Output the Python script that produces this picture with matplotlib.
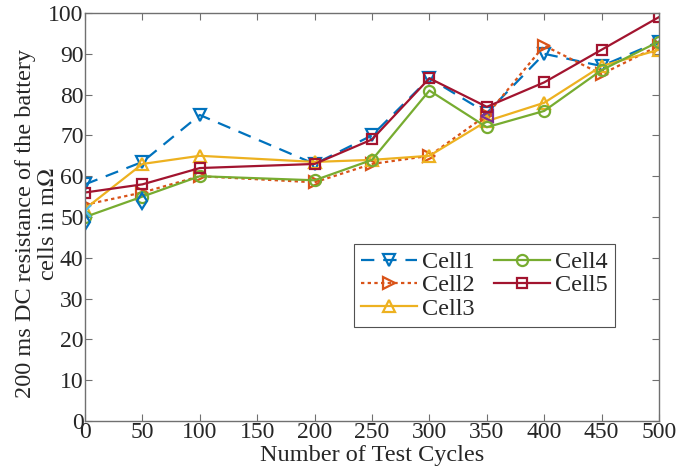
import matplotlib
matplotlib.use("Agg")
import matplotlib.pyplot as plt

plt.rcParams['font.family'] = ['Liberation Serif', 'DejaVu Serif']
plt.rcParams['mathtext.fontset'] = 'stix'

cycles = [0, 50, 100, 200, 250, 300, 350, 400, 450, 500]
cell1 = [58, 63.5, 75, 63, 70, 84, 75.5, 90, 87, 93]
cell2 = [53, 56, 60, 58.5, 63, 65, 75, 92, 85, 92]
cell3 = [52, 63, 65, 63.5, 64, 65, 73.5, 78, 87, 91]
cell4 = [50, 55, 60, 59, 64, 81, 72, 76, 86, 93]
cell5 = [56, 58, 62, 63, 69, 84, 77, 83, 91, 99]

# partly hidden extra series (only visible markers)
extra_purple_x = [350]
extra_purple_y = [74.7]
extra_cyan_x = [0]
extra_cyan_y = [51.4]
extra_diamond_x = [0, 50]
extra_diamond_y = [48.7, 54]

xticks = [0, 50, 100, 150, 200, 250, 300, 350, 400, 450, 500]
yticks = [0, 10, 20, 30, 40, 50, 60, 70, 80, 90, 100]

fig = plt.figure(figsize=(6.81, 4.70), dpi=100)
ax = fig.add_axes([85/681, 1-421/470, (659-85)/681, (421-13)/470])

c1, c2, c3, c4, c5 = '#0072BD', '#D95319', '#EDB120', '#77AC30', '#A2142F'
ms = 8
lw = 1.6
ax.plot(cycles, cell1, color=c1, ls=(0, (6, 4)), lw=lw, marker='v', ms=ms, mfc='none', mew=1.6, label='Cell1')
ax.plot(cycles, cell2, color=c2, ls=(0, (1.5, 1.5)), lw=lw, marker='>', ms=ms, mfc='none', mew=1.6, label='Cell2')
ax.plot(cycles, cell3, color=c3, ls='-', lw=lw, marker='^', ms=ms, mfc='none', mew=1.6, label='Cell3')
ax.plot(extra_purple_x, extra_purple_y, color='#7E2F8E', ls='none', marker='<', ms=ms, mfc='none', mew=1.6)
ax.plot(cycles, cell4, color=c4, ls='-', lw=lw, marker='o', ms=ms, mfc='none', mew=1.6, label='Cell4')
ax.plot(extra_cyan_x, extra_cyan_y, color='#4DBEEE', ls='none', marker='x', ms=ms, mew=1.6)
ax.plot(cycles, cell5, color=c5, ls='-', lw=lw, marker='s', ms=ms-1, mfc='none', mew=1.6, label='Cell5')
ax.plot(extra_diamond_x, extra_diamond_y, color=c1, ls='none', marker='d', ms=ms, mfc='none', mew=1.6)

ax.set_xlim(0, 500)
ax.set_ylim(0, 100)
ax.set_xticks(xticks)
ax.set_yticks(yticks)
ax.tick_params(direction='in', length=5, width=0.8, top=True, right=True,
               labelsize=17, colors='#707070', labelcolor='#262626')
ax.tick_params(axis='x', pad=1)
ax.tick_params(axis='y', pad=1)
for s in ax.spines.values():
    s.set_color('#707070')
    s.set_linewidth(1.0)

ax.set_xlabel('Number of Test Cycles', fontsize=17.5, color='#262626', va='top')
ax.xaxis.set_label_coords(0.5, (421-445)/408)
ax.set_ylabel('200 ms DC resistance of the battery\ncells in m$\\Omega$', fontsize=17.5,
              color='#262626', linespacing=1.1)
ax.yaxis.set_label_coords((59-85)/574, (421-224)/408)

leg = ax.legend(loc='lower left', bbox_to_anchor=((354-85)/574, (421-327)/408),
                ncol=2, fontsize=17.5, frameon=True, fancybox=False, handlelength=2.3,
                borderpad=0.3, labelspacing=0.05, columnspacing=0.8, handletextpad=0.2,
                borderaxespad=0)
leg.get_frame().set_edgecolor('#262626')
leg.get_frame().set_linewidth(0.8)
for t in leg.get_texts():
    t.set_color('#262626')

fig.savefig('out.png', dpi=100)
